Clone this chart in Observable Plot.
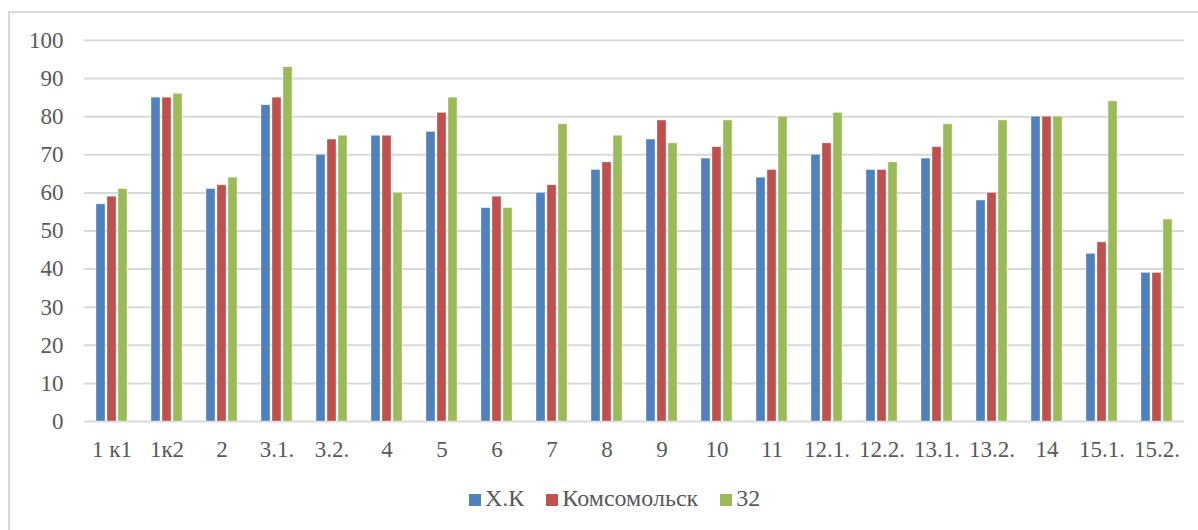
<!DOCTYPE html>
<html>
<head>
<meta charset="utf-8">
<script src="https://cdn.jsdelivr.net/npm/d3@7"></script>
<script src="https://cdn.jsdelivr.net/npm/@observablehq/plot@0.6"></script>
<style>
  html, body { margin: 0; padding: 0; background: #fff; }
  body { width: 1198px; height: 530px; position: relative; overflow: hidden; font-family: "Liberation Serif", "Times New Roman", serif; }
  #frame { position: absolute; left: 8px; top: 11px; width: 1300px; height: 600px; border-left: 2px solid #d9d9d9; border-top: 2px solid #d9d9d9; box-sizing: border-box; }
  #chart { position: absolute; left: 0; top: 0; }
  #chart svg, #chart svg text { font-family: "Liberation Serif", "Times New Roman", serif !important; font-size: 23px !important; }
  #legend { position: absolute; left: 469px; top: 485px; display: flex; align-items: center; font-size: 24px; color: #595959; white-space: nowrap; font-family: "Liberation Serif", "Times New Roman", serif; }
  #legend .item { display: flex; align-items: center; margin-right: 22px; }
  #legend .sw { width: 12px; height: 12px; margin-right: 4px; margin-top: 2px; }
</style>
</head>
<body>
<div id="frame"></div>
<div id="chart"></div>
<div id="legend"></div>
<script>
const categories = ["1 к1", "1к2", "2", "3.1.", "3.2.", "4", "5", "6", "7", "8", "9", "10", "11", "12.1.", "12.2.", "13.1.", "13.2.", "14", "15.1.", "15.2."];
const seriesNames = ["Х.К", "Комсомольск", "32"];
const seriesColors = ["#4F81BD", "#C0504D", "#9BBB59"];
const valuesXK = [57, 85, 61, 83, 70, 75, 76, 56, 60, 66, 74, 69, 64, 70, 66, 69, 58, 80, 44, 39];
const valuesKoms = [59, 85, 62, 85, 74, 75, 81, 59, 62, 68, 79, 72, 66, 73, 66, 72, 60, 80, 47, 39];
const values32 = [61, 86, 64, 93, 75, 60, 85, 56, 78, 75, 73, 79, 80, 81, 68, 78, 79, 80, 84, 53];
const yTicks = [0, 10, 20, 30, 40, 50, 60, 70, 80, 90, 100];

const seriesValues = [valuesXK, valuesKoms, values32];
const data = [];
categories.forEach((c, i) => {
  seriesNames.forEach((s, j) => data.push({category: c, series: s, value: seriesValues[j][i]}));
});

const chart = Plot.plot({
  width: 1198,
  height: 470,
  marginLeft: 83,
  marginRight: 14,
  marginTop: 40,
  marginBottom: 49,
  style: "font-family: 'Liberation Serif', 'Times New Roman', serif; font-size: 23px; color: #595959; background: transparent;",
  fx: {domain: categories, padding: 0, axis: "bottom", label: null, tickSize: 0, tickPadding: 19},
  x: {domain: seriesNames, paddingInner: 1/6, paddingOuter: 0.875, axis: null},
  y: {domain: [0, 100], ticks: yTicks, tickSize: 0, tickPadding: 21, label: null, tickFormat: d => d},
  color: {domain: seriesNames, range: seriesColors},
  marks: [
    Plot.ruleY(yTicks, {stroke: "#d9d9d9", strokeWidth: 2}),
    Plot.barY(data, {fx: "category", x: "series", y: "value", fill: "series", stroke: "#ffffff", strokeWidth: 0.6, strokeOpacity: 0.6})
  ]
});
document.getElementById("chart").appendChild(chart);

const legend = document.getElementById("legend");
seriesNames.forEach((s, i) => {
  const item = document.createElement("div");
  item.className = "item";
  const sw = document.createElement("span");
  sw.className = "sw";
  sw.style.background = seriesColors[i];
  const t = document.createElement("span");
  t.textContent = s;
  item.appendChild(sw);
  item.appendChild(t);
  legend.appendChild(item);
});
</script>
</body>
</html>
